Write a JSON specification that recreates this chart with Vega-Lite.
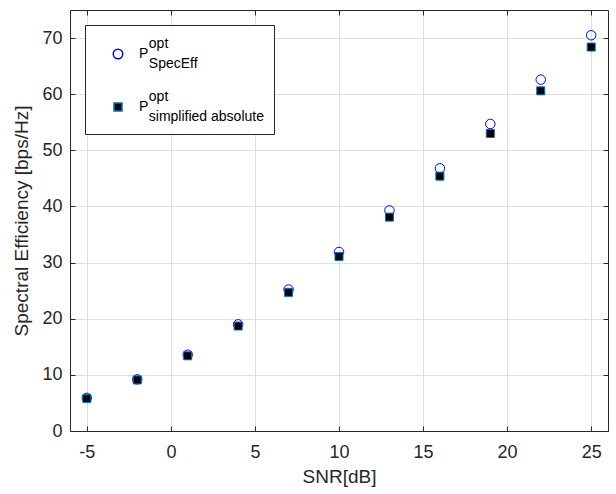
{
  "$schema": "https://vega.github.io/schema/vega-lite/v6.json",
  "width": 538,
  "height": 421,
  "autosize": "none",
  "padding": {"left": 70, "top": 10, "right": 8, "bottom": 63},
  "background": "white",
  "config": {
    "view": {"stroke": null},
    "font": "Liberation Sans",
    "style": {"guide-label": {"lineHeight": 10, "dy": -10}},
    "axis": {
      "labelFont": "Liberation Sans",
      "titleFont": "Liberation Sans",
      "labelColor": "#262626",
      "titleColor": "#262626",
      "domainColor": "#262626",
      "tickColor": "#262626",
      "gridColor": "#dfdfdf",
      "labelFontSize": 18,
      "titleFontSize": 19,
      "titleFontWeight": "normal",
      "tickSize": -5
    }
  },
  "data": {
    "values": [
      {"snr": -5, "se": 5.9, "series": "SpecEff"},
      {"snr": -2, "se": 9.2, "series": "SpecEff"},
      {"snr": 1, "se": 13.6, "series": "SpecEff"},
      {"snr": 4, "se": 19.0, "series": "SpecEff"},
      {"snr": 7, "se": 25.2, "series": "SpecEff"},
      {"snr": 10, "se": 31.9, "series": "SpecEff"},
      {"snr": 13, "se": 39.3, "series": "SpecEff"},
      {"snr": 16, "se": 46.8, "series": "SpecEff"},
      {"snr": 19, "se": 54.7, "series": "SpecEff"},
      {"snr": 22, "se": 62.6, "series": "SpecEff"},
      {"snr": 25, "se": 70.5, "series": "SpecEff"},
      {"snr": -5, "se": 5.8, "series": "simplified"},
      {"snr": -2, "se": 9.1, "series": "simplified"},
      {"snr": 1, "se": 13.4, "series": "simplified"},
      {"snr": 4, "se": 18.7, "series": "simplified"},
      {"snr": 7, "se": 24.7, "series": "simplified"},
      {"snr": 10, "se": 31.1, "series": "simplified"},
      {"snr": 13, "se": 38.1, "series": "simplified"},
      {"snr": 16, "se": 45.4, "series": "simplified"},
      {"snr": 19, "se": 53.0, "series": "simplified"},
      {"snr": 22, "se": 60.6, "series": "simplified"},
      {"snr": 25, "se": 68.4, "series": "simplified"}
    ]
  },
  "layer": [
    {
      "transform": [{"filter": "datum.series == 'SpecEff'"}],
      "mark": {"type": "point", "filled": true, "strokeWidth": 1, "opacity": 1},
      "encoding": {
        "x": {
          "field": "snr", "type": "quantitative",
          "scale": {"domain": [-6, 26], "nice": false, "zero": false},
          "axis": {"orient": "bottom", "title": "SNR[dB]", "values": [-5, 0, 5, 10, 15, 20, 25], "labelExpr": "toString(datum.value)", "labelPadding": 27, "titlePadding": 6, "grid": true}
        },
        "y": {
          "field": "se", "type": "quantitative",
          "scale": {"domain": [0, 75], "nice": false},
          "axis": {"orient": "left", "title": "Spectral Efficiency [bps/Hz]", "values": [0, 10, 20, 30, 40, 50, 60, 70], "labelPadding": 13, "labelOffset": 10, "titlePadding": 10, "grid": true}
        },
        "shape": {"field": "series", "type": "nominal", "scale": {"domain": ["SpecEff", "simplified"], "range": ["circle", "square"]}, "legend": {
          "title": "\u200b",
          "titleFontSize": 4,
          "titlePadding": 8,
          "orient": "top-left",
          "offset": 15,
          "padding": 10,
          "symbolOffset": 16,
          "labelOffset": 14,
          "rowPadding": 19,
          "strokeColor": "#262626",
          "fillColor": "white",
          "labelFont": "Liberation Sans",
          "labelFontSize": 14,
          "labelColor": "#000000",
          "labelBaseline": "middle",
          "labelLimit": 300,
          "labelExpr": "datum.value == 'SpecEff' ? ['\u200b\u2002\u2009opt', 'P', '\u200b\u2002\u2009SpecEff'] : ['\u200b\u2002\u2009opt', 'P', '\u200b\u2002\u2009simplified absolute']"
        }},
        "fill": {"field": "series", "type": "nominal", "scale": {"domain": ["SpecEff", "simplified"], "range": ["transparent", "#000000"]}},
        "stroke": {"field": "series", "type": "nominal", "scale": {"domain": ["SpecEff", "simplified"], "range": ["#0000ff", "#0072bd"]}},
        "size": {"field": "series", "type": "nominal", "scale": {"domain": ["SpecEff", "simplified"], "range": [90, 64]}}
      }
    },
    {
      "transform": [{"filter": "datum.series == 'simplified'"}],
      "mark": {"type": "point", "filled": true, "strokeWidth": 1, "opacity": 1},
      "encoding": {
        "x": {
          "field": "snr", "type": "quantitative",
          "axis": {"orient": "top", "title": null, "labels": false, "values": [-5, 0, 5, 10, 15, 20, 25], "grid": false}
        },
        "y": {
          "field": "se", "type": "quantitative",
          "axis": {"orient": "right", "title": null, "labels": false, "values": [0, 10, 20, 30, 40, 50, 60, 70], "grid": false}
        },
        "shape": {"field": "series", "type": "nominal"},
        "fill": {"field": "series", "type": "nominal"},
        "stroke": {"field": "series", "type": "nominal"},
        "size": {"field": "series", "type": "nominal"}
      }
    }
  ],
  "resolve": {"axis": {"x": "independent", "y": "independent"}}
}
